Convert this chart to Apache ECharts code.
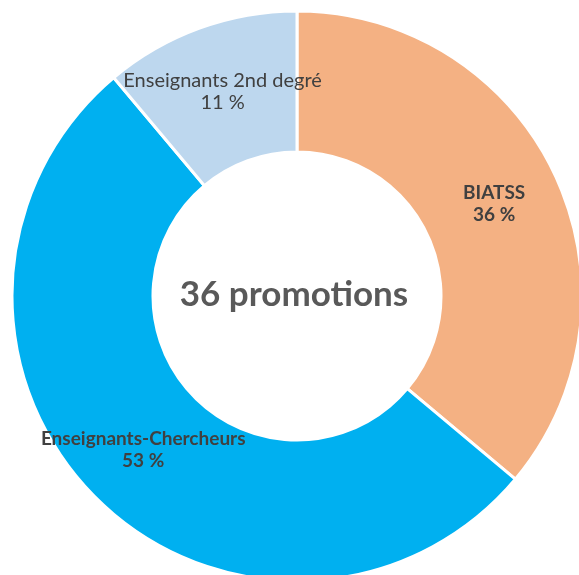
<!DOCTYPE html>
<html>
<head>
<meta charset="utf-8">
<style>
  html, body { margin: 0; padding: 0; background: #ffffff; }
  #chart { width: 579px; height: 575px; }
</style>
<script src="https://cdn.jsdelivr.net/npm/echarts@6/dist/echarts.min.js"></script>
</head>
<body>
<div id="chart"></div>
<script>
// Promotions by staff category
const categories = ['BIATSS', 'Enseignants-Chercheurs', 'Enseignants 2nd degré'];
const counts = [13, 19, 4];
const colors = ['#F4B183', '#00B0F0', '#BDD7EE'];
const labelWeights = ['bold', 'bold', 'normal'];
const labelSizes = [19, 19, 20];
const total = counts.reduce((a, b) => a + b, 0);
const centerText = total + ' promotions';

const chart = echarts.init(document.getElementById('chart'), null, { renderer: 'canvas' });

chart.setOption({
  animation: false,
  backgroundColor: '#ffffff',
  graphic: [{
    type: 'text',
    x: 294,
    y: 295,
    style: {
      text: centerText,
      fontFamily: 'Lato',
      fontWeight: 'bold',
      fontSize: 35,
      fill: '#595959',
      align: 'center',
      verticalAlign: 'middle'
    }
  }],
  series: [{
    type: 'pie',
    center: [297, 296],
    radius: [144, 285],
    startAngle: 90,
    clockwise: true,
    avoidLabelOverlap: false,
    itemStyle: { borderColor: '#ffffff', borderWidth: 3 },
    label: {
      show: true,
      position: 'inside',
      fontFamily: 'Lato',
      lineHeight: 22,
      color: '#404040',
      align: 'center',
      formatter: function (p) {
        return p.name + '\n' + Math.round(p.value / total * 100) + ' %';
      }
    },
    labelLine: { show: false },
    emphasis: { disabled: true },
    data: categories.map((name, i) => ({
      name: name,
      value: counts[i],
      itemStyle: { color: colors[i] },
      label: { fontWeight: labelWeights[i], fontSize: labelSizes[i] }
    }))
  }]
});
</script>
</body>
</html>
